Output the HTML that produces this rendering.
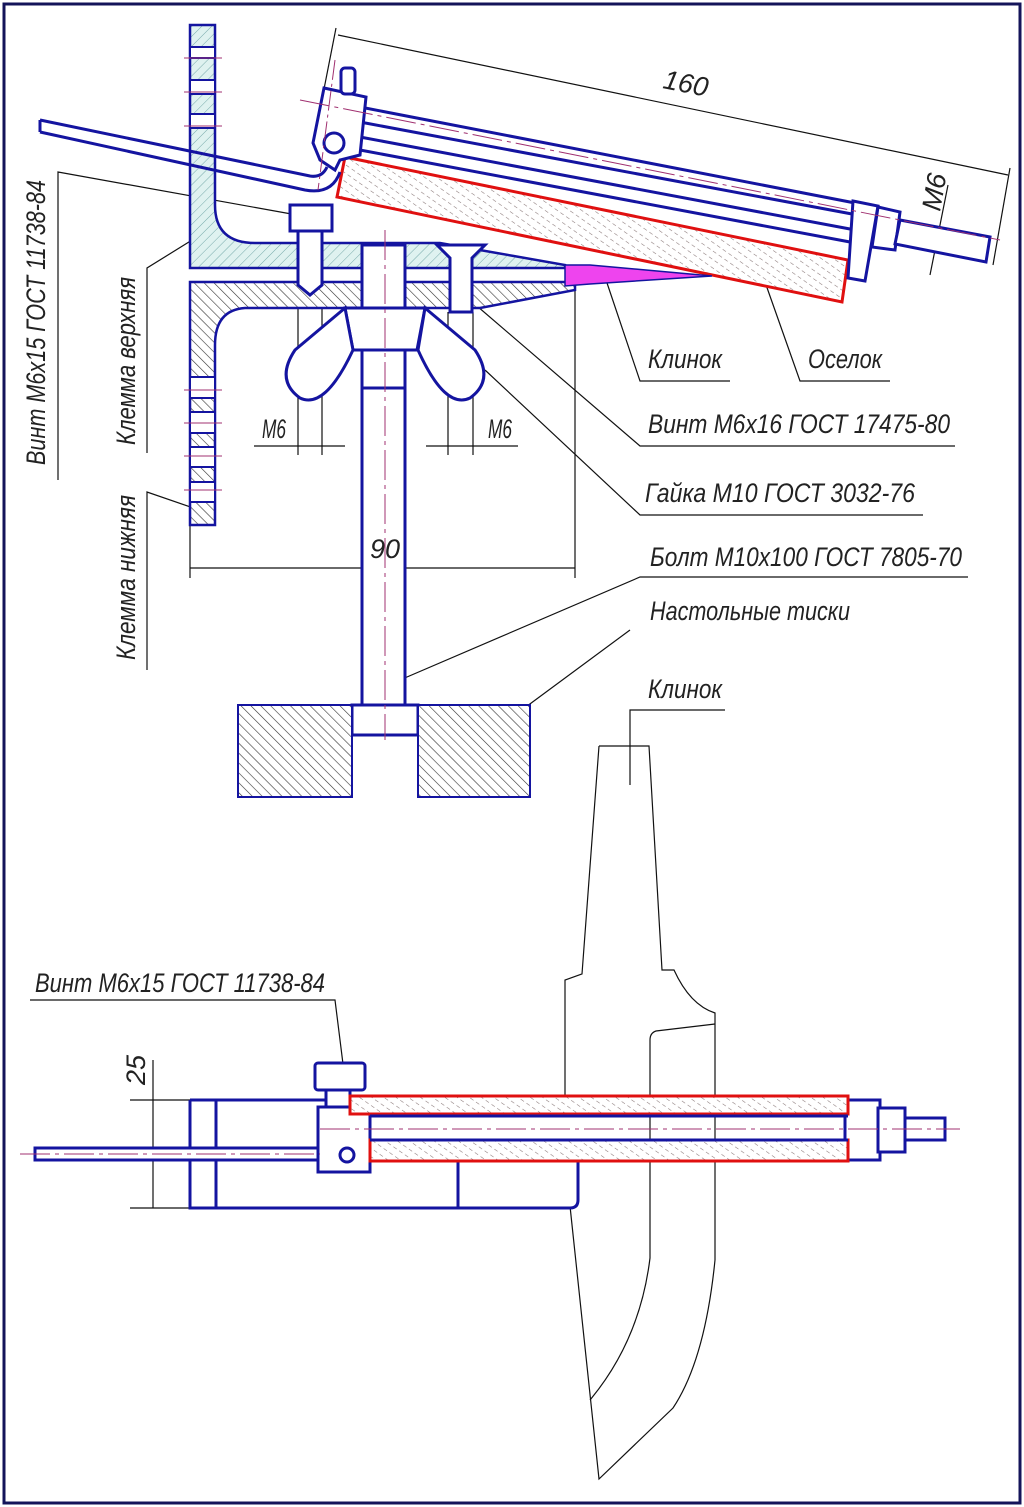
<!DOCTYPE html>
<html><head><meta charset="utf-8"><style>
html,body{margin:0;padding:0;background:#fff}
svg{display:block}
text{font-family:"Liberation Sans",sans-serif;font-style:italic;fill:#222;font-size:27px}
</style></head><body>
<svg width="1024" height="1507" viewBox="0 0 1024 1507" xmlns="http://www.w3.org/2000/svg">
<defs>
<pattern id="hc" width="7" height="7" patternUnits="userSpaceOnUse" patternTransform="rotate(45)"><rect width="7" height="7" fill="#dff2f0"/><line x1="0" y1="0" x2="0" y2="7" stroke="#7aa" stroke-width="1"/></pattern>
<pattern id="hg" width="7" height="7" patternUnits="userSpaceOnUse" patternTransform="rotate(-45)"><rect width="7" height="7" fill="#fff"/><line x1="0" y1="0" x2="0" y2="7" stroke="#333" stroke-width="1.2"/></pattern>
<pattern id="hs" width="7" height="7" patternUnits="userSpaceOnUse" patternTransform="rotate(-55)"><rect width="7" height="7" fill="#fff"/><line x1="0" y1="0" x2="0" y2="4" stroke="#877" stroke-width="1.1"/></pattern>
</defs>
<rect x="4" y="4" width="1016" height="1499" fill="none" stroke="#14145a" stroke-width="3"/>

<g fill="none" stroke="#111" stroke-width="1.2">
<line x1="338" y1="35" x2="1008" y2="175"/>
<line x1="336" y1="28" x2="314" y2="140"/>
<line x1="1010" y1="168" x2="993" y2="265"/>
<line x1="948" y1="185" x2="930" y2="275"/>
<polyline points="58,480 58,172 297,215"/>
<polyline points="147,453 147,268 205,232"/>
<polyline points="147,670 147,492 205,512"/>
<polyline points="605,277 640,381 730,381"/>
<polyline points="765,282 800,381 890,381"/>
<polyline points="470,300 640,446 955,446"/>
<polyline points="485,370 640,515 923,515"/>
<polyline points="400,680 640,577 968,577"/>
<polyline points="515,715 630,630"/>
<polyline points="630,785 630,710 725,710"/>
<polyline points="345,1080 335,1000 30,1000"/>
<line x1="190" y1="300" x2="190" y2="578"/>
<line x1="575" y1="290" x2="575" y2="578"/>
<line x1="190" y1="568" x2="575" y2="568"/>
<line x1="298" y1="290" x2="298" y2="455"/><line x1="322" y1="290" x2="322" y2="455"/>
<line x1="254" y1="446" x2="345" y2="446"/>
<line x1="448" y1="312" x2="448" y2="455"/><line x1="473" y1="312" x2="473" y2="455"/>
<line x1="426" y1="446" x2="518" y2="446"/>
<line x1="130" y1="1100" x2="190" y2="1100"/><line x1="130" y1="1208" x2="190" y2="1208"/>
<line x1="153" y1="1060" x2="153" y2="1208"/>
<path d="M599,746 L649,746 L662,970 L674,970 Q690,1005 715,1013 L715,1260 Q705,1360 673,1408 L599,1479 L570,1206"/>
<path d="M599,746 L582,974 L565,980 L565,1095"/>
<path d="M715,1024 L656,1031 Q650,1033 650,1040 L650,1258 Q640,1340 590,1400"/>
</g>

<path d="M190,25 L215,25 L215,205 Q215,243 255,243 L440,243 L565,265 L565,268 L190,268 Z" fill="url(#hc)" stroke="#1414a0" stroke-width="2.5"/>
<g fill="#fff" stroke="#1414a0" stroke-width="2">
<rect x="190" y="47" width="25" height="11"/><rect x="190" y="80" width="25" height="14"/><rect x="190" y="114" width="25" height="14"/>
</g>
<path d="M190,282 L575,282 L575,290 L480,308 L245,308 Q215,310 215,345 L215,525 L190,525 Z" fill="url(#hg)" stroke="#1414a0" stroke-width="2.5"/>
<g fill="#fff" stroke="#1414a0" stroke-width="2">
<rect x="190" y="377" width="25" height="21"/><rect x="190" y="412" width="25" height="21"/><rect x="190" y="447" width="25" height="20"/><rect x="190" y="482" width="25" height="20"/>
</g>
<g stroke="#a03070" stroke-width="1">
<line x1="184" y1="390" x2="222" y2="390"/><line x1="184" y1="423" x2="222" y2="423"/><line x1="184" y1="456" x2="222" y2="456"/><line x1="184" y1="490" x2="222" y2="490"/>
<line x1="184" y1="58" x2="222" y2="58"/><line x1="184" y1="92" x2="222" y2="92"/><line x1="184" y1="126" x2="222" y2="126"/>
</g>

<polygon points="345,157 848,260 842,302 337,197" fill="url(#hs)" stroke="#e01010" stroke-width="3"/>
<g stroke="#1414a0" stroke-width="3" fill="none">
<line x1="355" y1="106" x2="855" y2="203"/>
<line x1="360" y1="122" x2="852" y2="214"/>
<line x1="360" y1="137" x2="850" y2="229"/>
<line x1="360" y1="150" x2="850" y2="242"/>
<polygon points="853,201 878,206 865,281 848,278" fill="#fff"/>
<polygon points="878,207 900,212 895,250 872,247" fill="#fff"/>
<polygon points="900,220 990,237 986,262 895,244" fill="#fff"/>
<polygon points="324,88 366,97 360,155 340,160 335,170 320,160 313,143" fill="#fff"/>
<rect x="341" y="68" width="14" height="26" rx="4" fill="#fff"/>
<circle cx="334" cy="143" r="10"/>
<path d="M40,120 L310,176 Q322,178 327,167"/>
<path d="M40,132 L305,190 Q332,195 340,172"/>
<line x1="40" y1="120" x2="40" y2="132"/>
</g>
<line x1="300" y1="100" x2="1000" y2="240" stroke="#a03070" stroke-width="1" stroke-dasharray="30,5,4,5"/>
<line x1="335" y1="60" x2="318" y2="190" stroke="#a03070" stroke-width="1" stroke-dasharray="20,4,3,4"/>
<polygon points="565,265 590,265 712,276 590,284 565,286" fill="#ee44ee" stroke="#1414a0" stroke-width="1.5"/>

<g stroke="#1414a0" stroke-width="3" fill="#fff">
<rect x="362" y="245" width="43" height="460"/>
<rect x="362" y="350" width="43" height="38"/>
<path d="M345,308 L425,308 L417,350 L353,350 Z"/>
<path d="M425,308 L475,350 Q495,380 470,398 Q445,410 418,350 Z"/>
<path d="M345,308 L295,350 Q275,380 300,398 Q325,410 353,350 Z"/>
<rect x="290" y="205" width="42" height="26"/>
<path d="M298,231 L322,231 L322,285 L310,295 L298,285 Z"/>
<path d="M437,245 L485,245 L472,258 L472,312 L450,312 L450,258 Z"/>
<rect x="352" y="705" width="66" height="30"/>
</g>
<line x1="385" y1="230" x2="385" y2="740" stroke="#a03070" stroke-width="1" stroke-dasharray="30,5,4,5"/>
<rect x="238" y="705" width="114" height="92" fill="url(#hg)" stroke="#1414a0" stroke-width="2"/>
<rect x="418" y="705" width="112" height="92" fill="url(#hg)" stroke="#1414a0" stroke-width="2"/>

<g stroke="#1414a0" stroke-width="3" fill="#fff">
<path d="M190,1100 L355,1100 M190,1100 L190,1208 L570,1208 Q578,1208 578,1200 L578,1160"/>
<line x1="216" y1="1100" x2="216" y2="1208"/>
<line x1="458" y1="1160" x2="458" y2="1208"/>
<rect x="35" y="1148" width="285" height="12"/>
<rect x="318" y="1107" width="52" height="65"/>
<rect x="326" y="1090" width="24" height="17"/>
<rect x="315" y="1063" width="50" height="27" rx="3"/>
<circle cx="347" cy="1155" r="7"/>
<rect x="845" y="1100" width="35" height="60"/>
<rect x="878" y="1108" width="27" height="44"/>
<rect x="905" y="1118" width="40" height="22"/>
</g>
<rect x="350" y="1096" width="498" height="18" fill="url(#hs)" stroke="#e01010" stroke-width="3"/>
<rect x="370" y="1140" width="478" height="21" fill="url(#hs)" stroke="#e01010" stroke-width="3"/>
<line x1="370" y1="1116" x2="848" y2="1116" stroke="#1414a0" stroke-width="3"/>
<line x1="370" y1="1140" x2="848" y2="1140" stroke="#1414a0" stroke-width="3"/>
<line x1="20" y1="1154" x2="320" y2="1154" stroke="#a03070" stroke-width="1" stroke-dasharray="30,5,4,5"/>
<line x1="320" y1="1129" x2="960" y2="1129" stroke="#a03070" stroke-width="1" stroke-dasharray="30,5,4,5"/>

<text x="648" y="368" textLength="74" lengthAdjust="spacingAndGlyphs">Клинок</text>
<text x="808" y="368" textLength="74" lengthAdjust="spacingAndGlyphs">Оселок</text>
<text x="648" y="433" textLength="302" lengthAdjust="spacingAndGlyphs">Винт М6х16 ГОСТ 17475-80</text>
<text x="645" y="502" textLength="270" lengthAdjust="spacingAndGlyphs">Гайка М10 ГОСТ 3032-76</text>
<text x="650" y="566" textLength="312" lengthAdjust="spacingAndGlyphs">Болт М10х100 ГОСТ 7805-70</text>
<text x="650" y="620" textLength="200" lengthAdjust="spacingAndGlyphs">Настольные тиски</text>
<text x="648" y="698" textLength="74" lengthAdjust="spacingAndGlyphs">Клинок</text>
<text x="35" y="992" textLength="290" lengthAdjust="spacingAndGlyphs">Винт М6х15 ГОСТ 11738-84</text>
<text transform="translate(45,465) rotate(-90)" textLength="285" lengthAdjust="spacingAndGlyphs">Винт М6х15 ГОСТ 11738-84</text>
<text transform="translate(135,445) rotate(-90)" textLength="168" lengthAdjust="spacingAndGlyphs">Клемма верхняя</text>
<text transform="translate(135,660) rotate(-90)" textLength="165" lengthAdjust="spacingAndGlyphs">Клемма нижняя</text>
<text x="262" y="438" font-size="18" textLength="24" lengthAdjust="spacingAndGlyphs">М6</text>
<text x="488" y="438" font-size="18" textLength="24" lengthAdjust="spacingAndGlyphs">М6</text>
<text x="370" y="558" font-size="18">90</text>
<text transform="translate(662,88) rotate(11)" font-size="18">160</text>
<text transform="translate(940,212) rotate(-80)" font-size="18">М6</text>
<text transform="translate(145,1085) rotate(-90)" font-size="18">25</text>
</svg>
</body></html>
